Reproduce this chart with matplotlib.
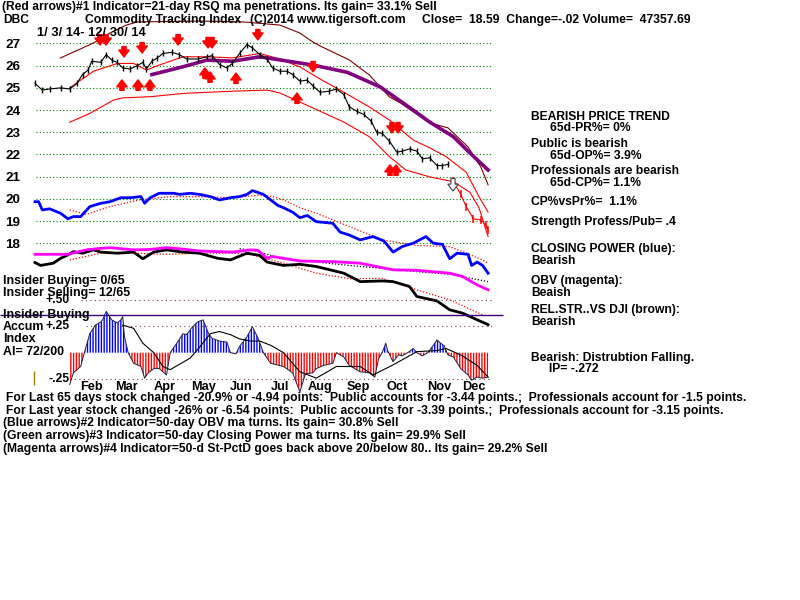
import matplotlib
matplotlib.use("Agg")
import matplotlib.pyplot as plt

FONT = ["Liberation Sans Narrow", "Liberation Sans", "DejaVu Sans"]
plt.rcParams["font.family"] = FONT
plt.rcParams["hatch.linewidth"] = 1.0

# ---- data (x = trading day from 1/3/14) ----
price_day = [0, 4, 8, 14, 19, 23, 26, 29, 31, 36, 39, 42, 45, 48, 52, 56, 59, 61, 64, 67,
             70, 75, 79, 83, 89, 94, 97, 101, 105, 108, 112, 116, 119, 123, 127, 130, 134,
             138, 141, 145, 149, 152, 156, 161, 165, 169, 172, 176, 180, 184, 187, 190, 194,
             198, 201, 205, 209, 212, 216, 220, 223, 226]
price_close = [25.2, 24.9, 24.95, 25.0, 24.95, 25.2, 25.6, 25.8, 26.2, 26.15, 26.5, 26.25,
               26.15, 25.9, 25.85, 26.0, 26.15, 25.85, 26.2, 26.35, 26.55, 26.6, 26.5, 26.3,
               26.3, 26.4, 26.45, 26.05, 25.9, 26.1, 26.55, 26.95, 26.8, 26.5, 26.3, 25.9,
               25.75, 25.75, 25.6, 25.3, 25.35, 25.1, 24.8, 24.85, 24.95, 24.7, 24.15, 23.95,
               23.8, 23.5, 23.0, 22.95, 22.6, 22.1, 22.15, 22.25, 22.15, 21.8, 21.85, 21.5,
               21.5, 21.55]
sell_day = [229, 233, 236, 240, 244, 247, 248]
sell_close = [20.8, 20.2, 19.65, 19.1, 19.05, 18.8, 18.59]

ma_day = [64, 81, 94, 108, 123, 134, 152, 171, 189, 207, 216, 229, 238, 248]
ma_val = [25.6, 25.95, 26.25, 26.2, 26.4, 26.26, 26.03, 25.7, 25.04, 24.0, 23.46, 22.8, 22.07, 21.3]

outer_day = [14, 32, 41, 50, 56, 90, 114, 134, 145, 152, 156, 172, 183, 194, 200, 216, 226, 237, 244, 248]
outer_val = [26.35, 27.02, 27.47, 27.83, 27.97, 28.01, 27.97, 27.83, 27.47, 27.07, 26.89, 26.26,
             25.58, 24.59, 24.32, 23.42, 23.2, 22.34, 21.44, 20.63]

upper_day = [19, 32, 45, 54, 61, 67, 81, 94, 108, 123, 134, 145, 156, 167, 183, 194, 207, 216,
             225, 236, 243, 248]
upper_val = [25.0, 25.75, 26.1, 26.1, 25.8, 26.0, 26.4, 26.4, 26.35, 26.55, 26.3, 25.94, 25.4,
             24.9, 24.14, 23.55, 22.65, 22.3, 21.9, 21.2, 20.1, 19.4]

lower_day = [19, 30, 43, 48, 63, 81, 108, 127, 134, 152, 169, 183, 194, 203, 216, 229, 238, 243, 248]
lower_val = [23.45, 23.85, 24.45, 24.55, 24.6, 24.75, 24.85, 24.9, 24.77, 24.1, 23.46, 22.8,
             21.9, 21.3, 20.99, 20.77, 20.3, 19.6, 18.3]

cp_day = [0, 2, 4, 8, 14, 18, 21, 25, 30, 36, 41, 47, 52, 58, 60, 63, 68, 76, 79, 85, 90, 96,
          101, 107, 112, 116, 119, 125, 129, 133, 136, 141, 145, 149, 154, 163, 167, 172, 178,
          185, 191, 196, 201, 207, 214, 218, 223, 227, 231, 237, 239, 242, 245, 248]
cp_val = [19.87, 19.87, 19.5, 19.55, 19.35, 19.1, 19.2, 19.2, 19.65, 19.8, 19.87, 20.05, 20.05,
          20.1, 19.8, 20.05, 20.25, 20.25, 20.2, 20.25, 20.2, 20.1, 19.95, 20.05, 20.1, 20.2,
          20.37, 20.2, 19.95, 19.7, 19.6, 19.4, 19.15, 19.25, 18.97, 18.9, 18.5, 18.37, 18.15,
          18.3, 18.1, 17.6, 17.85, 18.0, 18.3, 18.0, 17.95, 17.3, 17.55, 17.5, 17.0, 17.15,
          17.0, 16.65]
cp_ma_day = [19, 28, 41, 57, 74, 90, 108, 123, 130, 136, 145, 154, 172, 190, 209, 227, 245, 248]
cp_ma_val = [19.5, 19.3, 19.65, 19.95, 20.1, 20.1, 20.05, 20.17, 20.1, 19.95, 19.6, 19.35, 18.75,
             18.15, 17.9, 17.85, 17.25, 17.1]

obv_day = [0, 18, 28, 36, 41, 54, 63, 72, 79, 90, 108, 118, 122, 127, 130, 145, 163, 178, 196,
           209, 227, 234, 242, 248]
obv_val = [17.5, 17.5, 17.7, 17.77, 17.8, 17.7, 17.72, 17.8, 17.75, 17.65, 17.6, 17.7, 17.68,
           17.32, 17.4, 17.2, 17.17, 17.1, 16.8, 16.78, 16.65, 16.5, 16.12, 15.9]
obv_ma_day = [112, 118, 136, 172, 209, 227, 248]
obv_ma_val = [17.75, 17.7, 17.3, 17.0, 16.72, 16.6, 16.27]

rs_day = [0, 3, 10, 14, 18, 21, 26, 32, 36, 45, 54, 59, 65, 72, 81, 90, 100, 107, 116, 123,
          127, 136, 145, 154, 169, 178, 190, 196, 205, 209, 220, 227, 234, 242, 248]
rs_val = [17.13, 17.0, 17.1, 17.32, 17.47, 17.62, 17.55, 17.7, 17.6, 17.55, 17.6, 17.3, 17.6,
          17.7, 17.6, 17.55, 17.32, 17.25, 17.55, 17.45, 17.15, 17.0, 17.05, 16.95, 16.65, 16.27,
          16.3, 16.27, 16.05, 15.6, 15.4, 15.0, 14.85, 14.55, 14.33]
rs_ma_day = [19, 36, 54, 72, 90, 108, 118, 136, 154, 172, 190, 209, 227, 245]
rs_ma_val = [17.25, 17.55, 17.55, 17.5, 17.55, 17.55, 17.5, 17.1, 16.65, 16.4, 16.42, 15.9, 15.45, 14.77]

down_day = [35.6, 38.9, 48.7, 58.6, 78.3, 94.7, 96.9, 122, 152.2, 195.4, 198.7]
down_tip = [26.93, 26.93, 26.39, 26.57, 26.93, 26.8, 26.8, 27.16, 25.72, 22.97, 22.97]
up_day = [47.6, 56.4, 62.9, 93, 95.8, 110, 143.4, 194.3, 197.6]
up_tip = [25.36, 25.36, 25.36, 25.9, 25.72, 25.67, 24.77, 21.53, 21.53]
hollow_day = [228.8]
hollow_tip = [20.35]

ai_day = [19, 21, 25, 27, 30, 33, 36, 37, 39, 42, 45, 47, 48, 49, 51, 54, 58, 60, 62, 65, 68,
          72, 74, 78, 81, 83, 86, 89, 92, 95, 97, 101, 105, 107, 110, 112, 116, 119, 122, 125,
          129, 136, 141, 145, 148, 152, 154, 158, 163, 165, 169, 172, 178, 183, 186, 188, 190,
          192, 193, 196, 199, 201, 204, 207, 209, 212, 215, 218, 220, 222, 224, 226, 229, 233,
          237, 239, 242, 245, 248]
ai_val = [-0.30, -0.19, -0.13, 0.0, 0.18, 0.26, 0.29, 0.31, 0.39, 0.31, 0.28, 0.31, 0.34, 0.15,
          0.0, -0.10, -0.13, -0.24, -0.19, -0.15, -0.15, -0.21, 0.0, 0.10, 0.18, 0.17, 0.24,
          0.29, 0.31, 0.18, 0.135, 0.11, 0.10, 0.0, -0.01, 0.06, 0.15, 0.245, 0.14, 0.0, -0.1,
          -0.13, -0.19, -0.37, -0.2, -0.19, -0.15, -0.12, -0.10, 0.0, -0.04, -0.12, -0.18,
          -0.19, -0.23, -0.06, 0.0, 0.09, 0.02, -0.085, -0.02, -0.03, 0.0, 0.04, 0.0, -0.03,
          0.0, 0.07, 0.12, 0.09, 0.065, -0.02, -0.04, -0.15, -0.21, -0.26, -0.23, -0.24, -0.23]
ai_ma_day = [48, 54, 59, 65, 70, 74, 79, 85, 90, 96, 101, 107, 112, 118, 123, 129, 136, 145,
             154, 165, 178, 185, 196, 209, 220, 225, 234, 242, 248]
ai_ma_val = [0.26, 0.23, 0.09, 0.0, -0.13, -0.16, -0.11, -0.05, 0.05, 0.18, 0.2, 0.17, 0.13,
             0.11, 0.11, 0.07, 0.0, -0.18, -0.24, -0.13, -0.13, -0.21, -0.115, 0.01, 0.02, 0.04,
             -0.03, -0.12, -0.23]
insider_level = 0.353

months = ["Feb", "Mar", "Apr", "May", "Jun", "Jul", "Aug", "Sep", "Oct", "Nov", "Dec"]
month_start = [20, 39, 60, 81, 102, 123, 145, 166, 187, 210, 229]
price_ticks = [27, 26, 25, 24, 23, 22, 21, 20, 19, 18]
ai_ticks = [0.5, 0.25, -0.25]
ai_tick_labels = ["+.50", "+.25", "-.25"]

header = "(Red arrows)#1 Indicator=21-day RSQ ma penetrations. Its gain= 33.1% Sell"
footer = [
    "For Last 65 days stock changed -20.9% or -4.94 points:  Public accounts for -3.44 points.;  Professionals account for -1.5 points.",
    "For Last year stock changed -26% or -6.54 points:  Public accounts for -3.39 points.;  Professionals account for -3.15 points.",
    "(Blue arrows)#2 Indicator=50-day OBV ma turns. Its gain= 30.8% Sell",
    "(Green arrows)#3 Indicator=50-day Closing Power ma turns. Its gain= 29.9% Sell",
    "(Magenta arrows)#4 Indicator=50-d St-PctD goes back above 20/below 80.. Its gain= 29.2% Sell",
]

W, H = 800, 600
fig = plt.figure(figsize=(8, 6), dpi=100)
fig.patch.set_facecolor("white")
FS = 8.7


def txt(x, y, s, **kw):
    kw.setdefault("fontsize", FS)
    fig.text(x / W, 1 - y / H, s, ha="left", va="center", fontweight="bold", **kw)


# ---- price panel (also carries CP, OBV and rel. strength lines) ----
ax = fig.add_axes([33 / W, (H - 330) / H, 462 / W, 330 / H])
ax.set_xlim(-1.095, 251.78)
ax.set_ylim(14.09, 28.959)
ax.patch.set_alpha(0)
for s in ax.spines.values():
    s.set_visible(False)
ax.set_xticks([])
ax.set_yticks(price_ticks)
ax.set_yticklabels([str(t) for t in price_ticks], fontsize=FS + 1, fontweight="bold")
ax.tick_params(axis="y", length=0, pad=9)
ax.hlines(price_ticks, 0.5, 250, colors="#008000", linestyles=(0, (1, 2)), lw=0.8)

ax.plot(outer_day, outer_val, color="#800000", lw=0.8)
ax.plot(upper_day, upper_val, color="red", lw=0.8)
ax.plot(lower_day, lower_val, color="red", lw=0.8)
ax.plot(ma_day, ma_val, color="#800080", lw=2.6)

ax.plot(price_day, price_close, color="black", lw=0.8)
ax.plot(price_day, price_close, color="black", ls="none", marker="|", ms=5, mew=1.0)
ax.plot(sell_day, sell_close, color="red", lw=0.8)
ax.plot(sell_day, sell_close, color="red", ls="none", marker="|", ms=6, mew=1.1)

ax.plot(cp_ma_day, cp_ma_val, color="red", lw=0.9, ls=(0, (1, 1.5)))
ax.plot(cp_day, cp_val, color="#0000ff", lw=2.0)
ax.plot(rs_ma_day, rs_ma_val, color="red", lw=0.9, ls=(0, (1, 1.5)))
ax.plot(obv_ma_day, obv_ma_val, color="black", lw=0.9, ls=(0, (1, 1.5)))
ax.plot(rs_day, rs_val, color="black", lw=2.0)
ax.plot(obv_day, obv_val, color="#ff00ff", lw=2.0)

arrow_len = 0.47
astyle = "simple,head_length=0.5,head_width=0.75,tail_width=0.3"
for d, tip in zip(down_day, down_tip):
    ax.annotate("", xy=(d, tip), xytext=(d, tip + arrow_len),
                arrowprops=dict(arrowstyle=astyle, color="red", mutation_scale=10,
                                shrinkA=0, shrinkB=0))
for d, tip in zip(up_day, up_tip):
    ax.annotate("", xy=(d, tip), xytext=(d, tip - arrow_len),
                arrowprops=dict(arrowstyle=astyle, color="red", mutation_scale=10,
                                shrinkA=0, shrinkB=0))
for d, tip in zip(hollow_day, hollow_tip):
    ax.annotate("", xy=(d, tip), xytext=(d, tip + arrow_len + 0.1),
                arrowprops=dict(arrowstyle=astyle, fc="white", ec="#404040", lw=0.8,
                                mutation_scale=10, shrinkA=0, shrinkB=0))

# ---- accumulation index panel ----
ai_ax = fig.add_axes([33 / W, (H - 380) / H, 462 / W, 90 / H])
ai_ax.set_xlim(-1.095, 251.78)
ai_ax.set_ylim(-0.2575, 0.5915)
ai_ax.patch.set_alpha(0)
for s in ai_ax.spines.values():
    s.set_visible(False)
ai_ax.set_yticks([])
ai_ax.set_xticks([m + 11 for m in month_start])
ai_ax.set_xticklabels(months, fontsize=FS + 0.5, fontweight="bold")
ai_ax.tick_params(axis="x", length=0, pad=1)

ai_ax.hlines(ai_ticks, [25, 28, 19], 250, colors="#804040", linestyles=(0, (1, 3)), lw=0.8)
for v, lab in zip(ai_ticks, ai_tick_labels):
    ai_ax.text(19, v, lab, ha="right", va="center", fontsize=FS, fontweight="bold")
ai_ax.hlines(insider_level, -19, 256, colors="#400080", lw=1.0, clip_on=False)

pos = ai_ax.fill_between(ai_day, 0, ai_val, where=[v >= 0 for v in ai_val], interpolate=True,
                         facecolor="white", edgecolor="#0000ff", hatch="||||||", lw=0)
neg = ai_ax.fill_between(ai_day, 0, ai_val, where=[v <= 0 for v in ai_val], interpolate=True,
                         facecolor="white", edgecolor="red", hatch="||||||", lw=0)
pos.set_clip_on(False)
neg.set_clip_on(False)
ai_ax.plot(ai_day, ai_val, color="#202040", lw=0.7, clip_on=False)
ai_ax.plot(ai_ma_day, ai_ma_val, color="black", lw=0.8)
ai_ax.vlines(-0.5, -0.3, -0.17, colors="#a08000", lw=1.0, clip_on=False)

# ---- texts ----
txt(2, 7, header)
txt(3, 20, "DBC")
txt(85, 20, "Commodity Tracking Index")
txt(250, 20, "(C)2014 www.tigersoft.com")
txt(422, 20, "Close=  18.59  Change=-.02 Volume=  47357.69")
txt(37, 33, "1/ 3/ 14- 12/ 30/ 14", fontsize=FS + 0.6)

right = [
    (531, 117, "BEARISH PRICE TREND"), (550, 128, "65d-PR%= 0%"),
    (531, 144, "Public is bearish"), (550, 156, "65d-OP%= 3.9%"),
    (531, 171, "Professionals are bearish"), (550, 183, "65d-CP%= 1.1%"),
    (531, 202, "CP%vsPr%=  1.1%"), (531, 222, "Strength Profess/Pub= .4"),
    (531, 249, "CLOSING POWER (blue):"), (531, 261, "Bearish"),
    (531, 281, "OBV (magenta):"), (531, 293, "Beaish"),
    (531, 310, "REL.STR..VS DJI (brown):"), (531, 322, "Bearish"),
    (531, 358, "Bearish: Distrubtion Falling."), (549, 369, "IP= -.272"),
]
for x, y, s in right:
    txt(x, y, s)

left = [
    (3, 281, "Insider Buying= 0/65"), (3, 293, "Insider Selling= 12/65"),
    (3, 315, "Insider Buying"), (3, 327, "Accum"), (3, 339, "Index"), (3, 352, "AI= 72/200"),
]
for x, y, s in left:
    txt(x, y, s, fontsize=FS + 0.2)

for i, line in enumerate(footer):
    txt(6 if i < 2 else 3, 398 + 12.7 * i, line)

fig.savefig("out.png", dpi=100)
